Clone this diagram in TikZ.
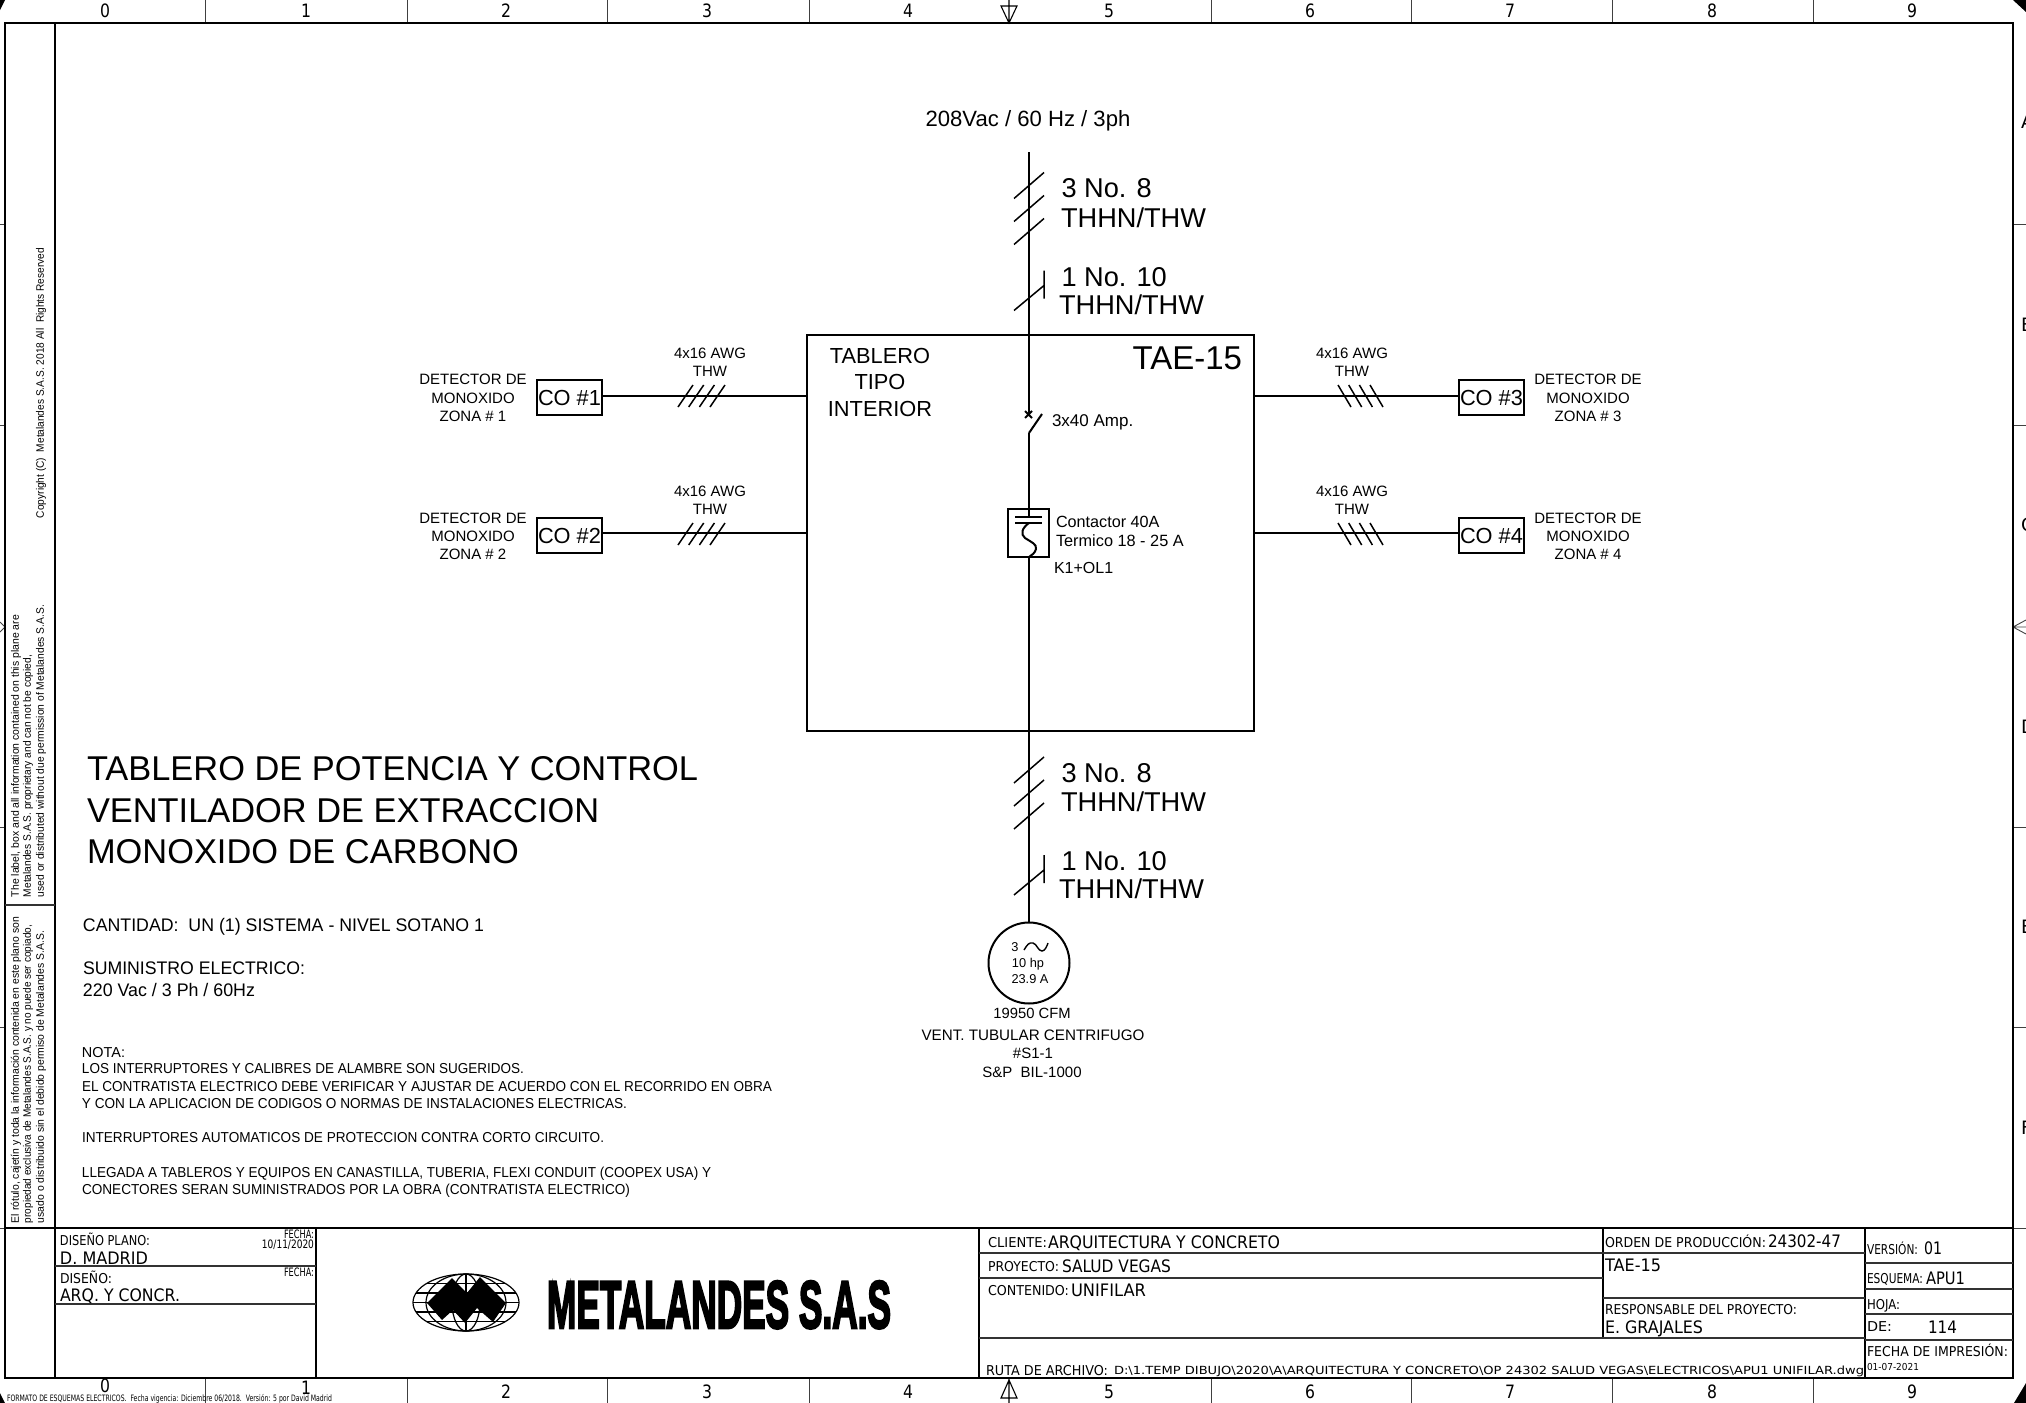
\documentclass[tikz,border=0pt]{standalone}
\usepackage{fontspec}
\usepackage{graphicx}
\setmainfont{Liberation Sans}
\newfontfamily\tbf{DejaVu Sans}
\newfontfamily\gridf[FakeStretch=0.85]{DejaVu Sans}
\newfontfamily\logof[FakeBold=4]{Liberation Sans Bold}
\newdimen\pxu \pxu=0.5pt
\newcommand{\fw}[2]{\resizebox{#1\pxu}{\height}{#2}}
\newcommand{\fs}[1]{\fontsize{#1}{#1}\selectfont}
\tikzset{
 every node/.style={inner sep=0pt,outer sep=0pt,text depth=0pt},
 wire/.style={line width=1pt,black},
 thinw/.style={line width=0.75pt,black},
 frameline/.style={line width=1.3pt,black},
 tbline/.style={line width=0.8pt,black!80},
 tick/.style={line width=0.45pt,black!75},
 tl/.style={anchor=west},
 tc/.style={anchor=center},
 side/.style={anchor=west,rotate=90,font=\fs{5.4}},
 tag/.style={anchor=center,font=\fs{7.5}},
 det/.style={anchor=center,font=\fs{7.5}},
 cable/.style={anchor=west,font=\fs{13.6}},
 cobox/.style={draw,line width=1pt,minimum width=32.5pt,minimum height=17.5pt,font=\fs{10.9}},
 note/.style={anchor=west,font=\fs{7.2}},
 big/.style={anchor=west,font=\fs{17.2}},
 info/.style={anchor=west,font=\fs{9.1}},
 tbs/.style={anchor=west,font=\tbf\fs{6.8}},
 tbb/.style={anchor=west,font=\tbf\fs{8.6}},
 grid/.style={anchor=center,font=\gridf\fs{9.2}},
}
\begin{document}
\begin{tikzpicture}[x=0.5pt,y=-0.5pt]
\useasboundingbox (0,0) rectangle (2026,1403);
\clip (0,0) rectangle (2026,1403);
% ---- corner marks
\fill[black] (2013,0) -- (2026,0) -- (2026,12) -- cycle;
\fill[black] (2026,1383) -- (2026,1403) -- (2014,1403) -- cycle;
\fill[black] (0,1393) -- (5,1403) -- (0,1403) -- cycle;
\fill[black] (0,0) -- (5,0) -- (0,10) -- cycle;
% ---- sheet frame
\draw[tick] (205,0) -- (205,23) (407,0) -- (407,23) (607,0) -- (607,23) (809,0) -- (809,23)
 (1211,0) -- (1211,23) (1411,0) -- (1411,23) (1612,0) -- (1612,23) (1813,0) -- (1813,23);
\draw[tick] (205,1378) -- (205,1403) (407,1378) -- (407,1403) (607,1378) -- (607,1403) (809,1378) -- (809,1403)
 (1211,1378) -- (1211,1403) (1411,1378) -- (1411,1403) (1612,1378) -- (1612,1403) (1813,1378) -- (1813,1403);
\draw[tick] (2013,224) -- (2026,224) (2013,425) -- (2026,425) (2013,827) -- (2026,827) (2013,1027) -- (2026,1027) (2013,1228) -- (2026,1228);
\draw[tick] (0,224) -- (5,224) (0,425) -- (5,425) (0,827) -- (5,827) (0,1027) -- (5,1027) (0,1228) -- (5,1228);
\draw[line width=.55pt,black] (1009,0) -- (1009,23) (1001,6) -- (1017,6) -- (1009,23) -- cycle;
\draw[line width=.55pt,black] (1009,1378) -- (1009,1403) (1001,1398) -- (1017,1398) -- (1009,1380) -- cycle;
\draw[tick] (2013,627) -- (2026,620) (2013,627) -- (2026,634) (2013,627) -- (2026,627);
\draw[tick] (5,627) -- (0,622) (5,627) -- (0,632);
\draw[frameline] (5,23) rectangle (2013,1378);
\draw[frameline] (55,23) -- (55,1378);
\draw[frameline] (5,1228) -- (2013,1228);
\draw[tbline] (5,905) -- (55,905);
% grid labels
\foreach \n/\xx/\yy in {0/105/11,1/306/11,2/506/11,3/707/11,4/908/11,5/1109/11,6/1310/11,7/1510/11,8/1712/11,9/1912/11}
  \node[grid] (gt\n) at (\xx,\yy) {\n};
\foreach \n/\xx/\yy in {0/105/1386,1/306/1388,2/506/1392,3/707/1392,4/908/1392,5/1109/1392,6/1310/1392,7/1510/1392,8/1712/1392,9/1912/1392}
  \node[grid] (gb\n) at (\xx,\yy) {\n};
\foreach \n/\yy in {A/122,B/325,C/525,D/727,E/927,F/1128}
  \node[anchor=west,font=\tbf\fs{9.2}] (gr\n) at (2021,\yy) {\n};
% ---- left strip
\node[side] (s1) at (40,518) {\fw{270}{Copyright (C)\ \ Metalandes S.A.S. 2018 All\ \ Rights Reserved}};
\node[side] (s2) at (15,897) {\fw{282}{The label, box and all information contained on this plane are}};
\node[side] (s3) at (27,897) {\fw{242}{Metalandes S.A.S. proprietary and can not be copied,}};
\node[side] (s4) at (40,897) {\fw{292}{used or distributed without due permission of Metalandes S.A.S.}};
\node[side] (s5) at (15,1223) {\fw{306}{El rótulo, cajetín y toda la información contenida en este plano son}};
\node[side] (s6) at (27,1223) {\fw{298}{propiedad exclusiva de Metalandes S.A.S. y no puede ser copiado,}};
\node[side] (s7) at (40,1223) {\fw{292}{usado o distribuido sin el debido permiso de Metalandes S.A.S.}};
% ---- panel
\node[draw,line width=1pt,minimum width=223.5pt,minimum height=198pt] (panel) at (1030.5,533) {};
\node[anchor=center,font=\fs{11.05}] (v) at (1028,118) {208Vac / 60 Hz / 3ph};
\node[anchor=center,font=\fs{10.9}] (p1) at (880,356) {TABLERO};
\node[anchor=center,font=\fs{10.9}] (p2) at (880,382) {TIPO};
\node[anchor=center,font=\fs{10.9}] (p3) at (880,409) {INTERIOR};
\node[anchor=east,font=\fs{16.5}] (p4) at (1242,358) {TAE-15};
% ---- main feeder
\coordinate (src) at (1029,152);
\coordinate (brkT) at (1029,415);
\coordinate (brkB) at (1029,433);
\coordinate (brkE) at (1042,414);
\node[draw,line width=1pt,minimum width=20.5pt,minimum height=24pt] (ctr) at (1028.5,533) {};
\coordinate (ctrA) at (1029,517);
\coordinate (ctrB) at (1029,523);
\coordinate (ctrC) at (1029,557);
\node[circle,draw,line width=1pt,minimum size=40.5pt] (motor) at (1029,963) {};
\draw[wire] (src) -- (brkT);
\draw[wire] (brkB) -- (brkE);
\draw[wire] (brkB) -- (ctrA);
\draw[wire] (ctrC) -- (motor.north);
\draw[wire] (1025,411) -- (1032,418) (1032,411) -- (1025,418);
\draw[wire] (1015,517) -- (1042,517) (1015,523) -- (1042,523);
\draw[wire] (ctrB) .. controls (1022,528) and (1020,534) .. (1025,538) .. controls (1031,542) and (1037,544) .. (1036,549) .. controls (1035,553) and (1032,555) .. (ctrC);
\node[anchor=west,font=\fs{8.5}] (b1) at (1052,421) {3x40 Amp.};
\node[anchor=west,font=\fs{8.1}] (c1) at (1056,522) {Contactor 40A};
\node[anchor=west,font=\fs{8.15}] (c2) at (1056,541) {Termico 18 - 25 A};
\node[anchor=west,font=\fs{8}] (c3) at (1054,568) {K1+OL1};
% ---- cable marks
\foreach \d in {0,-584.5}{
 \draw[thinw] (1014,783+\d) -- (1044,757+\d) (1014,806+\d) -- (1044,780+\d) (1014,829+\d) -- (1044,803+\d);
 \draw[thinw] (1014,895+\d) -- (1044,870+\d) (1044,855+\d) -- (1044,883+\d);
}
\node[cable] (t1) at (1061.5,188.5) {3 No. 8};
\node[cable] (t2) at (1061,217.5) {THHN/THW};
\node[cable] (t3) at (1061.5,276.5) {1 No. 10};
\node[cable] (t4) at (1059,304.5) {THHN/THW};
\node[cable] (t5) at (1061.5,773) {3 No. 8};
\node[cable] (t6) at (1061,802) {THHN/THW};
\node[cable] (t7) at (1061.5,861) {1 No. 10};
\node[cable] (t8) at (1059,889) {THHN/THW};
% ---- motor
\node[anchor=center,font=\fs{6.4}] (m0) at (1015,947) {3};
\draw[line width=.7pt] (1024,950) .. controls (1027,945) and (1029,942) .. (1033,943) .. controls (1037,944) and (1038,951) .. (1042,951) .. controls (1045,951) and (1047,946) .. (1048,943);
\node[anchor=center,font=\fs{6.4}] (m1) at (1028,963) {10 hp};
\node[anchor=center,font=\fs{6.4}] (m2) at (1030,979) {23.9 A};
\node[anchor=center,font=\fs{7.4}] (m3) at (1032,1013) {19950 CFM};
\node[anchor=center,font=\fs{7.6}] (m4) at (1033,1035) {VENT. TUBULAR CENTRIFUGO};
\node[anchor=center,font=\fs{7.5}] (m5) at (1033,1053) {\#S1-1};
\node[anchor=center,font=\fs{7.5}] (m6) at (1032,1072) {S\&P\ \ BIL-1000};
% ---- detectors
\node[cobox] (co1) at (569.5,397.5) {CO \#1};
\node[cobox] (co2) at (569.5,535.5) {CO \#2};
\node[cobox] (co3) at (1491.5,397.5) {CO \#3};
\node[cobox] (co4) at (1491.5,535.5) {CO \#4};
\draw[wire] (co1.east |- 0,396) -- (panel.west |- 0,396);
\draw[wire] (co2.east |- 0,533) -- (panel.west |- 0,533);
\draw[wire] (panel.east |- 0,396) -- (co3.west |- 0,396);
\draw[wire] (panel.east |- 0,533) -- (co4.west |- 0,533);
\foreach \yy in {0,138}{
 \foreach \xx in {0,10.7,21.4,32}{
  \draw[thinw] (678+\xx,407+\yy) -- (693+\xx,385+\yy);
  \draw[thinw] (1338+\xx,385+\yy) -- (1351+\xx,407+\yy);
 }
}
\node[tag] (a1) at (710,353) {4x16 AWG};
\node[tag] (a2) at (710,371) {THW};
\node[tag] (a3) at (710,491) {4x16 AWG};
\node[tag] (a4) at (710,509) {THW};
\node[tag] (a5) at (1352,353) {4x16 AWG};
\node[tag] (a6) at (1352,371) {THW};
\node[tag] (a7) at (1352,491) {4x16 AWG};
\node[tag] (a8) at (1352,509) {THW};
\node[det] (d1) at (473,379) {DETECTOR DE};
\node[det] (d2) at (473,398) {MONOXIDO};
\node[det] (d3) at (473,416) {ZONA \# 1};
\node[det] (d4) at (473,518) {DETECTOR DE};
\node[det] (d5) at (473,536) {MONOXIDO};
\node[det] (d6) at (473,554) {ZONA \# 2};
\node[det] (d7) at (1588,379) {DETECTOR DE};
\node[det] (d8) at (1588,398) {MONOXIDO};
\node[det] (d9) at (1588,416) {ZONA \# 3};
\node[det] (d10) at (1588,518) {DETECTOR DE};
\node[det] (d11) at (1588,536) {MONOXIDO};
\node[det] (d12) at (1588,554) {ZONA \# 4};
% ---- titles and notes
\node[big] (h1) at (87,768.5) {TABLERO DE POTENCIA Y CONTROL};
\node[big] (h2) at (87,810.5) {VENTILADOR DE EXTRACCION};
\node[big] (h3) at (87,851.5) {MONOXIDO DE CARBONO};
\node[info] (i1) at (83,925) {\fw{401}{CANTIDAD:\ \ UN (1) SISTEMA - NIVEL SOTANO 1}};
\node[info] (i2) at (83,968) {\fw{222}{SUMINISTRO ELECTRICO:}};
\node[info] (i3) at (83,990) {\fw{172}{220 Vac / 3 Ph / 60Hz}};
\node[note] (n1) at (82,1052) {\fw{43}{NOTA:}};
\node[note] (n2) at (82,1068) {\fw{442}{LOS INTERRUPTORES Y CALIBRES DE ALAMBRE SON SUGERIDOS.}};
\node[note] (n3) at (82,1086) {\fw{690}{EL CONTRATISTA ELECTRICO DEBE VERIFICAR Y AJUSTAR DE ACUERDO CON EL RECORRIDO EN OBRA}};
\node[note] (n4) at (82,1103) {\fw{545}{Y CON LA APLICACION DE CODIGOS O NORMAS DE INSTALACIONES ELECTRICAS.}};
\node[note] (n5) at (82,1137) {\fw{522}{INTERRUPTORES AUTOMATICOS DE PROTECCION CONTRA CORTO CIRCUITO.}};
\node[note] (n6) at (82,1172) {\fw{629}{LLEGADA A TABLEROS Y EQUIPOS EN CANASTILLA, TUBERIA, FLEXI CONDUIT (COOPEX USA) Y}};
\node[note] (n7) at (82,1189) {\fw{548}{CONECTORES SERAN SUMINISTRADOS POR LA OBRA (CONTRATISTA ELECTRICO)}};
% ---- title block lines
\draw[frameline] (316,1228) -- (316,1378) (979,1228) -- (979,1378) (1865,1228) -- (1865,1378) (1603,1228) -- (1603,1338);
\draw[tbline] (55,1266) -- (316,1266) (55,1304) -- (316,1304);
\draw[tbline] (979,1253) -- (1603,1253) (979,1278) -- (1603,1278) (979,1338) -- (1865,1338);
\draw[tbline] (1603,1253) -- (1865,1253) (1603,1298) -- (1865,1298);
\draw[tbline] (1865,1263) -- (2013,1263) (1865,1289) -- (2013,1289) (1865,1314) -- (2013,1314) (1865,1340) -- (2013,1340);
% title block text
\node[tbs] (tb1) at (60,1239) {\fw{90}{DISEÑO PLANO:}};
\node[anchor=east,font=\tbf\fs{5.8}] (tb2) at (314,1234) {\fw{30}{FECHA:}};
\node[anchor=east,font=\tbf\fs{5.8}] (tb3) at (314,1244) {\fw{52}{10/11/2020}};
\node[tbb] (tb4) at (60,1258) {\fw{88}{D. MADRID}};
\node[tbs] (tb5) at (60,1277) {\fw{52}{DISEÑO:}};
\node[anchor=east,font=\tbf\fs{5.8}] (tb6) at (314,1272) {\fw{30}{FECHA:}};
\node[tbb] (tb7) at (60,1295) {\fw{120}{ARQ. Y CONCR.}};
\node[tbs] (tb8) at (988,1242) {\fw{59}{CLIENTE:}};
\node[tbb] (tb9) at (1048,1242) {\fw{232}{ARQUITECTURA Y CONCRETO}};
\node[tbs] (tb10) at (988,1266) {\fw{71}{PROYECTO:}};
\node[tbb] (tb11) at (1062,1266) {\fw{109}{SALUD VEGAS}};
\node[tbs] (tb12) at (988,1290) {\fw{81}{CONTENIDO:}};
\node[tbb] (tb13) at (1071,1290) {\fw{75}{UNIFILAR}};
\node[tbs] (tb14) at (986,1370) {\fw{122}{RUTA DE ARCHIVO:}};
\node[anchor=west,font=\tbf\fs{5.6}] (tb15) at (1114,1370) {\fw{750}{D:\textbackslash 1.TEMP DIBUJO\textbackslash 2020\textbackslash A\textbackslash ARQUITECTURA Y CONCRETO\textbackslash OP 24302 SALUD VEGAS\textbackslash ELECTRICOS\textbackslash APU1 UNIFILAR.dwg}};
\node[tbs] (tb16) at (1605,1241) {\fw{161}{ORDEN DE PRODUCCIÓN:}};
\node[tbb] (tb17) at (1768,1241) {\fw{73}{24302-47}};
\node[tbb] (tb18) at (1605,1265) {\fw{56}{TAE-15}};
\node[tbs] (tb19) at (1605,1309) {\fw{192}{RESPONSABLE DEL PROYECTO:}};
\node[tbb] (tb20) at (1605,1327) {\fw{98}{E. GRAJALES}};
\node[tbs] (tb21) at (1867,1248) {\fw{51}{VERSIÓN:}};
\node[tbb] (tb22) at (1924,1248) {\fw{18}{01}};
\node[tbs] (tb23) at (1867,1278) {\fw{56}{ESQUEMA:}};
\node[tbb] (tb24) at (1926,1278) {\fw{39}{APU1}};
\node[tbs] (tb25) at (1867,1304) {\fw{33}{HOJA:}};
\node[tbs] (tb26) at (1867,1327) {\fw{25}{DE:}};
\node[tbb] (tb27) at (1928,1327) {\fw{29}{114}};
\node[tbs] (tb28) at (1867,1350) {\fw{141}{FECHA DE IMPRESIÓN:}};
\node[anchor=west,font=\tbf\fs{4.8}] (tb29) at (1867,1367) {\fw{52}{01-07-2021}};
\node[anchor=west,font=\tbf\fs{4.4}] (tb30) at (7,1398) {\fw{325}{FORMATO DE ESQUEMAS ELECTRICOS.\ \ Fecha vigencia: Diciembre 06/2018.\ \ Versión: 5 por David Madrid}};
% ---- logo
\begin{scope}[line width=0.6pt]
 \draw (466,1302.5) ellipse [x radius=53,y radius=28.5];
 \draw (466,1302.5) ellipse [x radius=40,y radius=28.5];
 \draw (466,1302.5) ellipse [x radius=14,y radius=28.5];
 \draw (466,1274) -- (466,1331);
 \draw (426.5,1283.5) -- (505.5,1283.5) (416,1293) -- (516,1293) (413,1302.5) -- (519,1302.5) (416,1312) -- (516,1312) (426.5,1321.5) -- (505.5,1321.5);
\end{scope}
\fill[black] (427,1303) -- (452,1278) -- (467,1293) -- (480,1277) -- (506,1303) -- (493,1322) -- (477,1308) -- (465,1323) -- (453,1310) -- (442,1320) -- cycle;
\node[anchor=west,font=\logof] (logo) at (547,1304.5) {\resizebox{172pt}{23.5pt}{METALANDES S.A.S}};
\end{tikzpicture}
\end{document}
